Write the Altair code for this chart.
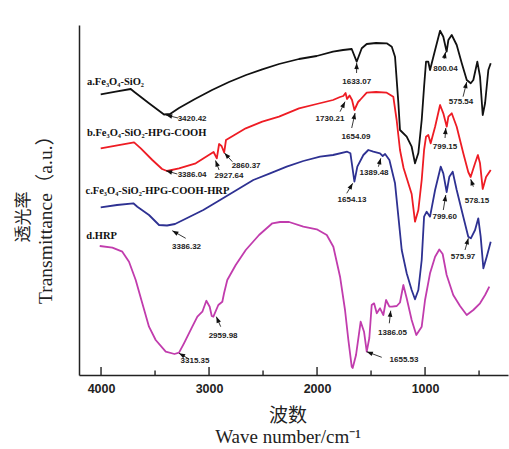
import math
import altair as alt
import pandas as pd

# ---------------- data ----------------
# wavenumber (cm-1) and transmittance (a.u., offset per curve)
a_wn = [4003,3864,3725,3694,3556,3417,3361,3278,3130,2972,2815,2657,2507,2352,2167,2003,1852,1759,1679,1633,1586,1540,1454,1355,1308,1278,1247,1232,1170,1124,1093,1062,1031,1009,991,970,954,907,861,831,800,784,753,707,660,614,577,553,516,491,466,444,414,392]
a_t = [280.7,283.3,286,283.3,271.7,260.5,261,267,276,285,293,300,305.7,311,316,319,323.3,325,326,313.3,326.7,331,332,331.7,328.3,318.3,272,245,238.3,228.3,211.7,222,255,288.3,313.3,313.3,305,325,344.3,338.3,323.3,335,340,330,311.7,295,291.7,295,313.3,298.3,260,272,305,311.7]

b_wn = [4003,3849,3694,3632,3525,3435,3389,3278,3123,2958,2928,2907,2884,2860,2843,2660,2507,2352,2167,2003,1852,1787,1757,1736,1722,1699,1676,1654,1620,1602,1540,1454,1355,1294,1263,1232,1199,1170,1124,1093,1062,1031,1009,991,970,948,907,861,831,799,784,753,707,646,600,578,537,511,491,466,435,392]
b_t = [226.7,229.7,232.7,226.7,215,206,204,206.7,211.7,223,216.7,231,229,222.5,235,246.7,253.3,258.3,266.7,271,275,278,279,282,276,279.5,275,265,273,275,282.3,283,282.3,278.3,255,225,207,197,181,153.3,165,195,225,238.3,240,231.7,248.3,270,261.7,248.3,258.3,261.7,248.3,221.7,203,198,211.7,220,211.7,186,198,205]

c_wn = [4003,3852,3701,3664,3556,3463,3389,3315,3207,3053,2898,2744,2590,2435,2281,2127,1972,1852,1721,1691,1654,1627,1571,1525,1479,1417,1392,1370,1330,1278,1247,1216,1170,1124,1093,1062,1031,1009,985,954,907,855,831,800,775,744,707,646,600,576,537,507,485,460,429,392]
c_t = [167.7,170,171.7,168.3,160,150,149.5,151,156.7,165,175,185,195,201.7,208.3,214,218.3,220,223.3,221.7,193.3,208.3,220,225,223.3,221.7,219,221,215,191.7,158.3,125,101.7,85,75.7,85,115,158.3,163.3,158.3,185,208.3,201.7,183,198.3,203.3,185,158.3,138.3,136.7,145,156.7,138.3,106.7,118.3,133.3]

d_wn = [4012,3895,3803,3741,3679,3618,3556,3494,3401,3320,3278,3232,3155,3108,3062,3025,2994,2975,2960,2914,2877,2861,2831,2753,2660,2537,2414,2343,2259,2127,2003,1910,1849,1787,1741,1710,1679,1670,1639,1596,1565,1540,1516,1494,1472,1447,1417,1386,1361,1330,1306,1262,1232,1201,1170,1124,1081,1031,1000,954,907,868,837,800,739,676,614,553,491,444,405]
d_t = [129,127.3,123.3,113.3,95,71.7,48.3,35,23.3,21,22.3,31.7,48.3,58.3,63.3,74.3,68.3,59,58.3,70,73.3,81.7,95,110,125,140,151.7,153,153,148.3,145.7,140,128.3,98.3,65,35,8.3,7,20,53.3,43.3,23.3,37,70,71.7,61.7,66.7,60,75,68.3,68.3,69,72.5,90,76.7,55,40,48.3,75,101.7,118.3,125.5,121,100,80,69,60,65,71.7,80,88.3]

series_keys = ["a", "b", "c", "d"]
series_colors = ["#111111", "#ee1c24", "#2e3192", "#c13cad"]
series_label = ["a.Fe₃O₄-SiO₂", "b.Fe₃O₄-SiO₂-HPG-COOH", "c.Fe₃O₄-SiO₂-HPG-COOH-HRP", "d.HRP"]
label_wn = [4130, 4130, 4144, 4136]
label_t = [290.5, 239.5, 181.5, 136.2]

# peak annotations
ann_label = ["3420.42","1633.07","800.04","575.54","1730.21","1654.09","799.15","578.15","3386.04","2927.64","2860.37","1389.48","1654.13","799.60","575.97","3386.32","2959.98","3315.35","1386.05","1655.53"]
ann_wn = [3157,1633,811,667,1880,1639,815,519,3157,2815,2657,1472,1676,818,648,3208,2870,3130,1301,1195]
ann_t = [256,293,306.5,273,256,238,228,174,200,199,209.3,202,175,158,118,128,39.3,14.3,42.3,15]
tail_wn = [3287,1634,824,648,1787,1679,815,553,3294,2907,2784,1432,1725,831,630,3216,2892,3185,1331,1401]
tail_t = [257,302,316,278.3,263.3,247,237,188.3,201,205,213.3,208.3,181.7,165,125,136.7,48.3,16,51.7,17.7]
head_wn = [3398,1633,810,614,1741,1648,808,577,3398,2940,2857,1410,1670,808,599,3340,2932,3278,1318,1540]
head_t = [260,312,323,293,273.3,262,247,195.7,204.3,214.5,222,216.7,191.7,180,136.7,144.3,58.3,21.7,64.3,23.3]

tick_values = [4000, 3500, 3000, 2500, 2000, 1500, 1000, 500]
label_values = [4000, 3000, 2000, 1000]

# ---------------- layout ----------------
W, H = 429, 350
X_DOMAIN = [232, 4204]
Y_DOMAIN = [0, 350]
SERIF = "Liberation Serif, Noto Sans CJK SC"
SANS = "Liberation Sans"

rows = []
for key, wn, t in zip(series_keys, [a_wn, b_wn, c_wn, d_wn], [a_t, b_t, c_t, d_t]):
    for w_, t_ in zip(wn, t):
        rows.append({"s": key, "wn": w_, "t": t_})
curves = pd.DataFrame(rows)

xs = alt.Scale(domain=X_DOMAIN, reverse=True, nice=False, zero=False)
ys = alt.Scale(domain=Y_DOMAIN, nice=False, zero=False)

x_axis = alt.Axis(values=label_values, ticks=False, tickSize=0, grid=False, title=None,
                  domainColor="#222", domainWidth=1.5, labelFont=SANS, labelFontWeight="bold",
                  labelFontSize=12.5, labelColor="#222", labelPadding=7, format="d")
y_axis = alt.Axis(ticks=False, tickSize=0, labels=False, grid=False, title=None,
                  domainColor="#222", domainWidth=1.5)

lines = alt.Chart(curves).mark_line(strokeWidth=1.8, strokeJoin="round").encode(
    x=alt.X("wn:Q", scale=xs, axis=x_axis),
    y=alt.Y("t:Q", scale=ys, axis=y_axis),
    color=alt.Color("s:N", scale=alt.Scale(domain=series_keys, range=series_colors), legend=None),
    order=alt.Order("wn:Q"),
)

labels_df = pd.DataFrame({"txt": series_label, "wn": label_wn, "t": label_t})
series_text = alt.Chart(labels_df).mark_text(
    align="left", baseline="alphabetic", font="Liberation Serif", fontWeight="bold",
    fontSize=10.5, color="#111"
).encode(x=alt.X("wn:Q", scale=xs), y=alt.Y("t:Q", scale=ys), text="txt:N")

# arrows
px_wn = W / (X_DOMAIN[1] - X_DOMAIN[0])
px_t = H / (Y_DOMAIN[1] - Y_DOMAIN[0])
angles = []
for tw, tt, hw, ht in zip(tail_wn, tail_t, head_wn, head_t):
    dx = -(hw - tw) * px_wn
    dy = -(ht - tt) * px_t
    angles.append(math.degrees(math.atan2(dx, -dy)) % 360)

ann_df = pd.DataFrame({"txt": ann_label, "wn": ann_wn, "t": ann_t,
                       "tw": tail_wn, "tt": tail_t, "hw": head_wn, "ht": head_t,
                       "ang": angles})

ann_text = alt.Chart(ann_df).mark_text(
    align="center", baseline="middle", font=SANS, fontWeight="bold", fontSize=8, color="#222"
).encode(x=alt.X("wn:Q", scale=xs), y=alt.Y("t:Q", scale=ys), text="txt:N")

ann_rule = alt.Chart(ann_df).mark_rule(strokeWidth=0.9, color="#222").encode(
    x=alt.X("tw:Q", scale=xs), y=alt.Y("tt:Q", scale=ys),
    x2="hw:Q", y2="ht:Q")

ann_head = alt.Chart(ann_df).mark_point(
    shape="M0,0L0.38,1L-0.38,1Z", filled=True, size=150, color="#111", opacity=1, strokeWidth=0
).encode(x=alt.X("hw:Q", scale=xs), y=alt.Y("ht:Q", scale=ys),
         angle=alt.Angle("ang:Q", scale=None))

ticks_df = pd.DataFrame({"wn": tick_values})
ticks_df["major"] = ticks_df["wn"] % 1000 == 0
major = alt.Chart(ticks_df).transform_filter("datum.major").mark_rule(
    strokeWidth=1.4, color="#222").encode(
    x=alt.X("wn:Q", scale=xs), y=alt.value(H), y2=alt.value(H - 8))
minor = alt.Chart(ticks_df).transform_filter("!datum.major").mark_rule(
    strokeWidth=1.4, color="#222").encode(
    x=alt.X("wn:Q", scale=xs), y=alt.value(H), y2=alt.value(H - 4.5))

def title_text(txt, x, y, size, font, angle=0, baseline="middle"):
    return alt.Chart(pd.DataFrame({"txt": [txt]})).mark_text(
        align="center", baseline=baseline, font=font, fontSize=size, color="#222", angle=angle
    ).encode(x=alt.value(x), y=alt.value(y), text="txt:N")

t1 = title_text("波数", 209, 390.5, 19, "Noto Sans CJK SC")
t2 = title_text("Wave  number/cm⁻¹", 209, 418, 19, SERIF, baseline="alphabetic")
t3 = title_text("Transmittance（a.u.）", -33.5, 190, 19.5, SERIF, angle=270)
t4 = title_text("透光率", -55, 192, 17, "Noto Sans CJK SC", angle=270)

chart = alt.layer(lines, major, minor, ann_rule, ann_head, ann_text, series_text,
                  t1, t2, t3, t4).properties(
    width=W, height=H,
    autosize=alt.AutoSizeParams(type="none"),
    padding={"left": 79, "top": 25, "right": 1, "bottom": 74},
).configure_view(strokeWidth=0)

chart.save("out.html", embed_options={"renderer": "svg", "actions": False})
